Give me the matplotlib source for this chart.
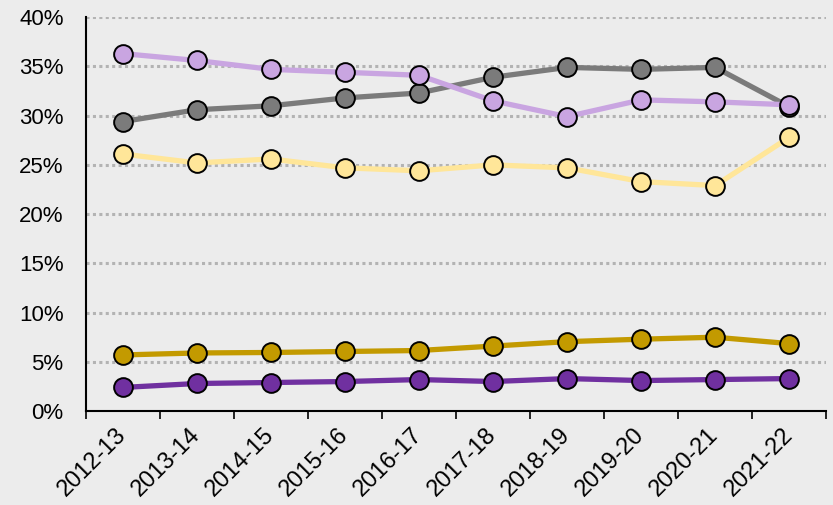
import numpy as np
import matplotlib.pyplot as plt
from matplotlib.ticker import FuncFormatter, FixedLocator

plt.rcParams['font.family'] = ['Liberation Sans', 'DejaVu Sans']

years = ['2012-13', '2013-14', '2014-15', '2015-16', '2016-17',
         '2017-18', '2018-19', '2019-20', '2020-21', '2021-22']

# shares in percent per year
purple = [2.4, 2.8, 2.9, 3.0, 3.2, 3.0, 3.3, 3.1, 3.2, 3.3]
gold = [5.7, 5.9, 5.95, 6.05, 6.15, 6.6, 7.05, 7.3, 7.5, 6.85]
yellow = [26.1, 25.2, 25.6, 24.7, 24.4, 25.0, 24.7, 23.3, 22.9, 27.8]
grey = [29.4, 30.6, 31.0, 31.8, 32.3, 33.9, 34.9, 34.7, 34.9, 30.9]
lavender = [36.3, 35.6, 34.7, 34.4, 34.1, 31.5, 29.9, 31.6, 31.4, 31.1]

series = [
    (purple, '#7030a0'),
    (gold, '#c39a00'),
    (yellow, '#ffe699'),
    (grey, '#7b7b7b'),
    (lavender, '#c9a5e1'),
]

bg = '#ececec'
fig = plt.figure(figsize=(8.33, 5.05), dpi=100, facecolor=bg)
ax = fig.add_axes([0.103, 0.186, 0.889, 0.780], facecolor=bg)

x = np.arange(len(years)) + 0.5
for vals, col in series:
    ax.plot(x, vals, color=col, lw=3.8, marker='o', ms=13.5,
            mfc=col, mec='black', mew=1.4, zorder=3, solid_capstyle='round')

ax.set_xlim(0, len(years))
ax.set_ylim(0, 40)
ax.set_yticks(np.arange(0, 41, 5))
ax.yaxis.set_major_formatter(FuncFormatter(lambda v, p: f'{v:.0f}%'))
for v in range(5, 41, 5):
    ax.axhline(v, color='#b3b3b3', lw=2.2, ls=(0, (1.0, 1.1)), zorder=1)

# ticks sit between categories, labels under each point
ax.xaxis.set_major_locator(FixedLocator(np.arange(0, len(years) + 1)))
ax.xaxis.set_minor_locator(FixedLocator(x))
ax.set_xticklabels([])
ax.set_xticklabels(years, minor=True, rotation=45, ha='right', va='center',
                   rotation_mode='anchor', fontsize=17)
ax.tick_params(axis='x', which='major', length=6, width=1.2, direction='out')
ax.tick_params(axis='x', which='minor', length=0, pad=15)
ax.tick_params(axis='y', length=0, labelsize=16, pad=16)

for side in ['top', 'right']:
    ax.spines[side].set_visible(False)
ax.spines['left'].set_linewidth(1.5)
ax.spines['bottom'].set_linewidth(1.5)

fig.savefig('out.png', dpi=100, facecolor=bg)
